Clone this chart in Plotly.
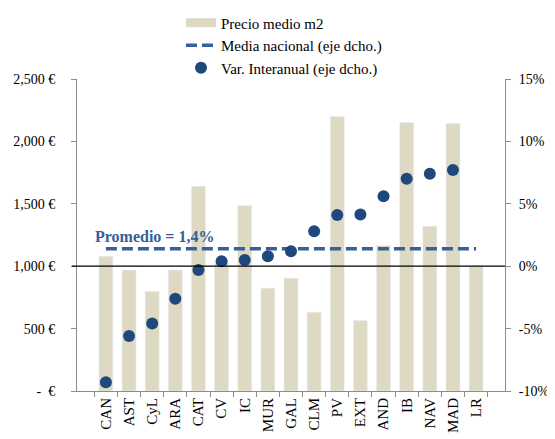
import plotly.graph_objs as go
from plotly.subplots import make_subplots

regiones = ["CAN", "AST", "CyL", "ARA", "CAT", "CV", "IC", "MUR", "GAL",
            "CLM", "PV", "EXT", "AND", "IB", "NAV", "MAD", "LR"]
precio_m2 = [1080, 970, 797, 970, 1640, 1025, 1485, 824, 904,
             632, 2200, 565, 1166, 2152, 1320, 2144, 1000]
var_interanual = [-9.3, -5.6, -4.6, -2.6, -0.3, 0.4, 0.5, 0.8, 1.2,
                  2.8, 4.1, 4.15, 5.6, 7.0, 7.4, 7.7, None]
media_nacional = 1.4

left_vals = [0, 500, 1000, 1500, 2000, 2500]
left_text = ["-  €", "500 €", "1,000 €", "1,500 €", "2,000 €", "2,500 €"]
right_vals = [-10, -5, 0, 5, 10, 15]
right_text = ["-10%", "-5%", "0%", "5%", "10%", "15%"]

TAN = "#DDD9C3"
BLUE = "#1F497D"
DASH = "#35609A"
FONT = "Liberation Serif"

fig = make_subplots(specs=[[{"secondary_y": True}]])

fig.add_trace(go.Bar(x=regiones, y=precio_m2, marker_color=TAN,
                     name="Precio medio m2", showlegend=False),
              secondary_y=False)
# legend proxy so the swatch is a wide band like the original
fig.add_trace(go.Scatter(x=[None], y=[None], mode="lines",
                         line=dict(color=TAN, width=9),
                         name="Precio medio m2"),
              secondary_y=False)
fig.add_trace(go.Scatter(x=regiones, y=[media_nacional] * len(regiones), mode="lines",
                         line=dict(color=DASH, width=3.5, dash="11px,5px"),
                         name="Media nacional (eje dcho.)"),
              secondary_y=True)
fig.add_trace(go.Scatter(x=regiones, y=var_interanual, mode="markers",
                         marker=dict(color=BLUE, size=12),
                         name="Var. Interanual (eje dcho.)"),
              secondary_y=True)

fig.add_shape(type="line", xref="paper", yref="y", x0=-0.012, x1=1,
              y0=1000, y1=1000, line=dict(color="black", width=1.3))

fig.add_annotation(text="<b>Promedio = 1,4%</b>", xref="paper", yref="y2",
                   x=0.037, y=media_nacional, xanchor="left", yanchor="bottom",
                   yshift=2, showarrow=False,
                   font=dict(family=FONT, size=16, color=DASH))

fig.update_xaxes(domain=[0, 1], tickangle=-90, showline=True, linecolor="#8c8c8c",
                 ticks="outside", tickson="boundaries", ticklen=5,
                 tickcolor="#8c8c8c", showgrid=False, automargin=False,
                 tickfont=dict(family=FONT, size=15, color="black"))
fig.update_yaxes(range=[0, 2500], tickvals=left_vals, ticktext=left_text,
                 showline=True, linecolor="#8c8c8c", ticks="outside",
                 ticklen=5, tickcolor="#8c8c8c", showgrid=False, zeroline=False,
                 automargin=False, ticklabelstandoff=13,
                 tickfont=dict(family=FONT, size=14, color="black"),
                 secondary_y=False)
fig.update_yaxes(range=[-10, 15], tickvals=right_vals, ticktext=right_text,
                 showline=True, linecolor="#8c8c8c", ticks="outside",
                 ticklen=5, tickcolor="#8c8c8c", showgrid=False, zeroline=False,
                 automargin=False, ticklabelstandoff=5,
                 tickfont=dict(family=FONT, size=14, color="black"),
                 secondary_y=True)

# page body adds an 8px offset, so the figure is drawn 8px smaller
fig.update_layout(
    width=547, height=431,
    margin=dict(l=69, r=50, t=71, b=48, autoexpand=False),
    paper_bgcolor="white", plot_bgcolor="white",
    bargap=0.4,
    font=dict(family=FONT, size=15, color="black"),
    legend=dict(x=0.243, y=1.232, xanchor="left", yanchor="top",
                bgcolor="rgba(0,0,0,0)", tracegroupgap=0,
                font=dict(family=FONT, size=15, color="black")),
)

fig.write_html("out.html")
